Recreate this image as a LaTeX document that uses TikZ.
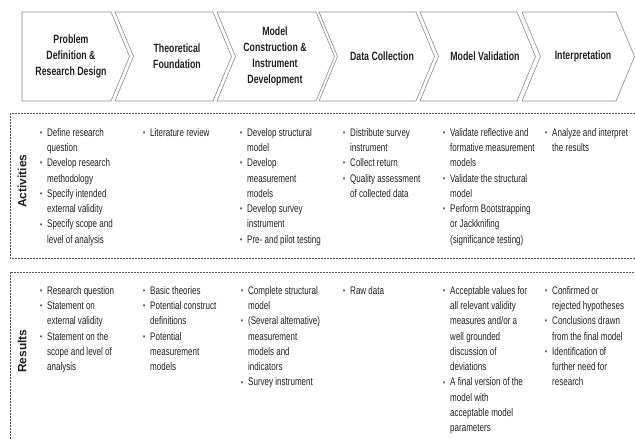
\documentclass[tikz,border=0pt]{standalone}
\usepackage{fontspec}
\setmainfont{Liberation Sans}[FakeStretch=0.73]
\newfontfamily\labelfont{Liberation Sans}
\definecolor{inkgray}{HTML}{222222}
\definecolor{edgegray}{HTML}{8C8C8C}
\definecolor{dashgray}{HTML}{555555}
\newcommand{\mybul}{\makebox[7pt][l]{\raisebox{0.15ex}{\footnotesize\textbullet}}}
\newcommand{\mycont}{\hspace*{7pt}}
\begin{document}
\begin{tikzpicture}[x=1pt,y=-1pt,
  chev/.style={draw=edgegray, line width=0.6pt, fill=white, line join=miter},
  phase/.style={align=center, inner sep=0pt, text=inkgray,
    font=\fontsize{12}{16}\selectfont\bfseries},
  body/.style={align=left, inner sep=0pt, anchor=north west, text=inkgray,
    font=\fontsize{11}{15.3}\selectfont},
  panel/.style={draw=dashgray, line width=0.6pt, dash pattern=on 2pt off 1pt},
  rowlabel/.style={rotate=90, inner sep=0pt, text=inkgray,
    font=\labelfont\fontsize{12}{14}\selectfont\bfseries}]
\useasboundingbox (0,0) rectangle (635,439);
\clip (0,0) rectangle (635,439);
\fill[white] (0,0) rectangle (635,439);

% process chevrons
\draw[chev] (22,12) -- (111,12) -- (129.5,56.5) -- (111,101) -- (22,101) -- cycle;
\foreach \l/\r in {115/213, 217/316, 319/416, 420/517, 522/616}{
  \draw[chev] (\l,12) -- (\r,12) -- (\r+18.5,56.5) -- (\r,101) -- (\l,101)
    -- (\l+18.5,56.5) -- cycle;
}

% phase titles
\node[phase] (h1) at (71,56.5) {Problem\\Definition \&\\Research Design};
\node[phase] (h2) at (177,56.5) {Theoretical\\Foundation};
\node[phase] (h3) at (275,56.5) {Model\\Construction \&\\Instrument\\Development};
\node[phase] (h4) at (382,56.5) {Data Collection};
\node[phase] (h5) at (485,56.5) {Model Validation};
\node[phase] (h6) at (583,56.5) {Interpretation};

% dashed panels
\draw[panel] (10,113) rectangle (650,258);
\draw[panel] (10,272) rectangle (650,460);

\node[rowlabel] (lblA) at (22,181) {Activities};
\node[rowlabel] (lblR) at (22,351) {Results};

% activities
\node[body] (a1) at (40,128) {\mybul Define research\\ \mycont question\\
  \mybul Develop research\\ \mycont methodology\\
  \mybul Specify intended\\ \mycont external validity\\
  \mybul Specify scope and\\ \mycont level of analysis};
\node[body] (a2) at (143,128) {\mybul Literature review};
\node[body] (a3) at (240,128) {\mybul Develop structural\\ \mycont model\\
  \mybul Develop\\ \mycont measurement\\ \mycont models\\
  \mybul Develop survey\\ \mycont instrument\\
  \mybul Pre- and pilot testing};
\node[body] (a4) at (343,128) {\mybul Distribute survey\\ \mycont instrument\\
  \mybul Collect return\\
  \mybul Quality assessment\\ \mycont of collected data};
\node[body] (a5) at (443,128) {\mybul Validate reflective and\\ \mycont formative measurement\\ \mycont models\\
  \mybul Validate the structural\\ \mycont model\\
  \mybul Perform Bootstrapping\\ \mycont or Jackknifing\\ \mycont (significance testing)};
\node[body] (a6) at (545,128) {\mybul Analyze and interpret\\ \mycont the results};

% results
\node[body] (r1) at (40,286) {\mybul Research question\\
  \mybul Statement on\\ \mycont external validity\\
  \mybul Statement on the\\ \mycont scope and level of\\ \mycont analysis};
\node[body] (r2) at (143,286) {\mybul Basic theories\\
  \mybul Potential construct\\ \mycont definitions\\
  \mybul Potential\\ \mycont measurement\\ \mycont models};
\node[body] (r3) at (241,286) {\mybul Complete structural\\ \mycont model\\
  \mybul (Several alternative)\\ \mycont measurement\\ \mycont models and\\ \mycont indicators\\
  \mybul Survey instrument};
\node[body] (r4) at (343,286) {\mybul Raw data};
\node[body] (r5) at (443,286) {\mybul Acceptable values for\\ \mycont all relevant validity\\ \mycont measures and/or a\\
  \mycont well grounded\\ \mycont discussion of\\ \mycont deviations\\
  \mybul A final version of the\\ \mycont model with\\ \mycont acceptable model\\ \mycont parameters};
\node[body] (r6) at (545,286) {\mybul Confirmed or\\ \mycont rejected hypotheses\\
  \mybul Conclusions drawn\\ \mycont from the final model\\
  \mybul Identification of\\ \mycont further need for\\ \mycont research};
\end{tikzpicture}
\end{document}
